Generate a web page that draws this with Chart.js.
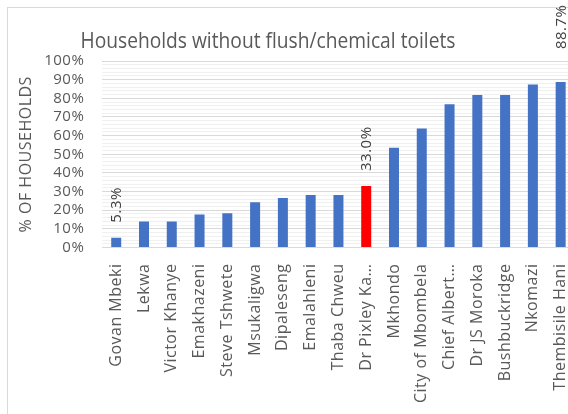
<!DOCTYPE html>
<html>
<head>
<meta charset="utf-8">
<script src="https://cdn.jsdelivr.net/npm/chart.js@4/dist/chart.umd.min.js"></script>
<style>
  html, body { margin: 0; padding: 0; background: #fff; overflow: hidden; }
  #frame { position: absolute; left: 7px; top: 7px; width: 700px; height: 500px; border: 1px solid #d9d9d9; }
  #chart { position: absolute; left: 0; top: 0; }
</style>
</head>
<body>
<div id="frame"></div>
<canvas id="chart" width="588" height="414"></canvas>
<script>
// Municipalities, sorted by share of households without flush/chemical toilets
const municipalities = [
  "Govan Mbeki", "Lekwa", "Victor Khanye", "Emakhazeni", "Steve Tshwete",
  "Msukaligwa", "Dipaleseng", "Emalahleni", "Thaba Chweu", "Dr Pixley Ka\u2026",
  "Mkhondo", "City of Mbombela", "Chief Albert\u2026", "Dr JS Moroka",
  "Bushbuckridge", "Nkomazi", "Thembisile Hani"
];
const noToiletPct = [
  5.3, 14.0, 14.0, 17.7, 18.4,
  24.3, 26.6, 28.2, 28.2, 33.0,
  53.5, 63.8, 76.8, 81.8,
  81.8, 87.4, 88.7
];
const highlighted = "Dr Pixley Ka\u2026";
const labelledBars = ["Govan Mbeki", "Dr Pixley Ka\u2026", "Thembisile Hani"];
const chartTitle = "Households without flush/chemical toilets";
const axisTitle = "% OF HOUSEHOLDS";

const BLUE = "#4472c4";
const RED = "#ff0000";
const GREY_TEXT = "#595959";

// Excel-style text is a little more loosely spaced
const spacingPlugin = {
  id: "spacing",
  beforeUpdate(chart) { chart.ctx.letterSpacing = "0.5px"; },
  beforeDraw(chart) { chart.ctx.letterSpacing = "0.5px"; }
};

// Title sits left of centre, squeezed to the width of a condensed face
const titlePlugin = {
  id: "sheetTitle",
  afterDraw(chart, args, opts) {
    const ctx = chart.ctx;
    ctx.save();
    ctx.letterSpacing = "0px";
    ctx.font = opts.font;
    ctx.fillStyle = opts.color;
    ctx.textBaseline = "alphabetic";
    ctx.textAlign = "center";
    const w = ctx.measureText(opts.text).width;
    const sx = opts.width / w;
    ctx.translate(opts.x, opts.y);
    ctx.scale(sx, 1);
    ctx.fillText(opts.text, 0, 0);
    ctx.restore();
  }
};

// Rotated value labels above selected bars
const valueLabelPlugin = {
  id: "valueLabels",
  afterDatasetsDraw(chart, args, opts) {
    const ctx = chart.ctx;
    const meta = chart.getDatasetMeta(0);
    ctx.save();
    ctx.font = opts.font;
    ctx.fillStyle = opts.color;
    ctx.textAlign = "left";
    ctx.textBaseline = "middle";
    labelledBars.forEach((name, k) => {
      const i = municipalities.indexOf(name);
      const bar = meta.data[i];
      ctx.save();
      ctx.translate(bar.x + 1, bar.y - opts.lift[k]);
      ctx.rotate(-Math.PI / 2);
      ctx.fillText(noToiletPct[i].toFixed(1) + "%", 0, 0);
      ctx.restore();
    });
    ctx.restore();
  }
};

const ctx = document.getElementById("chart").getContext("2d");
new Chart(ctx, {
  type: "bar",
  data: {
    labels: municipalities,
    datasets: [{
      data: noToiletPct,
      backgroundColor: municipalities.map(m => m === highlighted ? RED : BLUE),
      borderWidth: 0,
      categoryPercentage: 1,
      barPercentage: 0.36
    }]
  },
  options: {
    responsive: false,
    animation: false,
    events: [],
    layout: { padding: { left: 10, right: 5, top: 61, bottom: 3 } },
    plugins: {
      legend: { display: false },
      tooltip: { enabled: false },
      title: { display: false },
      sheetTitle: {
        text: chartTitle,
        font: "21px 'Open Sans'",
        color: GREY_TEXT,
        x: 268,
        y: 48,
        width: 375
      },
      valueLabels: {
        font: "15px 'Open Sans'",
        color: "#404040",
        lift: [15, 15, 33]
      }
    },
    scales: {
      x: {
        grid: { display: false },
        border: { display: false },
        ticks: {
          color: GREY_TEXT,
          font: { family: "Open Sans", size: 16 },
          minRotation: 90,
          maxRotation: 90,
          autoSkip: false,
          padding: 8
        }
      },
      y: {
        min: 0,
        max: 100,
        border: { display: false },
        grid: {
          drawTicks: false,
          color: c => (c.tick && c.tick.value % 10 === 0) ? "#d9d9d9" : "#f0f0f0"
        },
        title: {
          display: true,
          text: axisTitle,
          color: GREY_TEXT,
          font: { family: "Open Sans", size: 16 },
          padding: { top: 7, bottom: -10 }
        },
        ticks: {
          stepSize: 2,
          autoSkip: false,
          padding: 18,
          color: GREY_TEXT,
          font: { family: "Open Sans", size: 15 },
          callback: v => v % 10 === 0 ? v + "%" : ""
        }
      }
    }
  },
  plugins: [spacingPlugin, titlePlugin, valueLabelPlugin]
});
</script>
</body>
</html>
